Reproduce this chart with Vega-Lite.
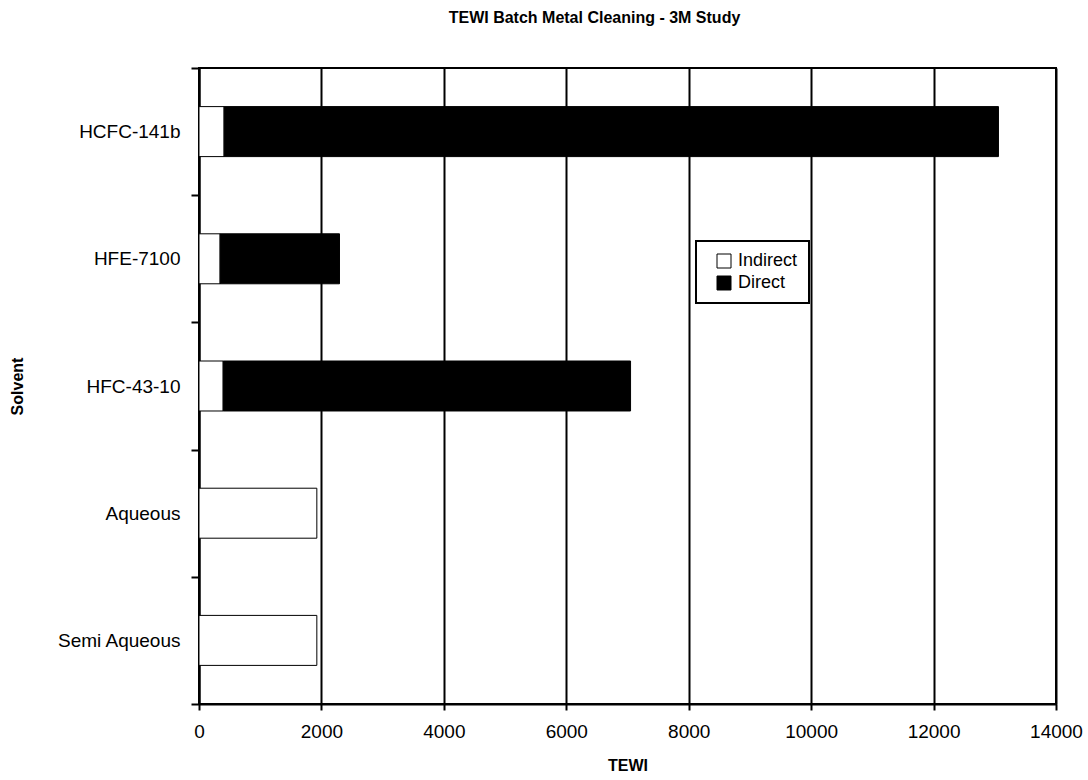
{
  "$schema": "https://vega.github.io/schema/vega-lite/v6.json",
  "autosize": "none",
  "width": 857,
  "height": 636,
  "padding": {"left": 199, "top": 68, "right": 32, "bottom": 76},
  "background": "white",
  "title": {
    "text": "TEWI Batch Metal Cleaning - 3M Study",
    "font": "Liberation Sans",
    "fontSize": 16,
    "fontWeight": "bold",
    "color": "black",
    "anchor": "middle",
    "frame": "group",
    "baseline": "alphabetic",
    "offset": 20,
    "dx": -33
  },
  "data": {
    "values": [
      {"solvent": "HCFC-141b", "type": "Indirect", "tewi": 410},
      {"solvent": "HCFC-141b", "type": "Direct", "tewi": 12650},
      {"solvent": "HFE-7100", "type": "Indirect", "tewi": 345},
      {"solvent": "HFE-7100", "type": "Direct", "tewi": 1950},
      {"solvent": "HFC-43-10", "type": "Indirect", "tewi": 395},
      {"solvent": "HFC-43-10", "type": "Direct", "tewi": 6655},
      {"solvent": "Aqueous", "type": "Indirect", "tewi": 1925},
      {"solvent": "Semi Aqueous", "type": "Indirect", "tewi": 1925}
    ]
  },
  "mark": {"type": "bar", "stroke": "black", "strokeWidth": 1, "height": {"band": 0.393}},
  "encoding": {
    "y": {
      "field": "solvent",
      "type": "nominal",
      "sort": ["HCFC-141b", "HFE-7100", "HFC-43-10", "Aqueous", "Semi Aqueous"],
      "scale": {"paddingInner": 0, "paddingOuter": 0},
      "axis": {
        "title": "Solvent",
        "titleFont": "Liberation Sans",
        "titleFontSize": 16,
        "titleFontWeight": "bold",
        "titleColor": "black",
        "titlePadding": 31,
        "labelFont": "Liberation Sans",
        "labelFontSize": 19,
        "labelColor": "black",
        "labelPadding": 11,
        "tickBand": "extent",
        "tickSize": 8,
        "tickWidth": 2,
        "tickColor": "black",
        "domainColor": "black",
        "domainWidth": 2,
        "grid": false
      }
    },
    "x": {
      "field": "tewi",
      "type": "quantitative",
      "stack": "zero",
      "scale": {"domain": [0, 14000], "nice": false},
      "axis": {
        "title": "TEWI",
        "titleFont": "Liberation Sans",
        "titleFontSize": 16,
        "titleFontWeight": "bold",
        "titleColor": "black",
        "titlePadding": 16,
        "values": [0, 2000, 4000, 6000, 8000, 10000, 12000, 14000],
        "format": "d",
        "labelFont": "Liberation Sans",
        "labelFontSize": 19,
        "labelColor": "black",
        "labelPadding": 12,
        "labelFlush": false,
        "tickSize": 6,
        "tickWidth": 2,
        "tickColor": "black",
        "domainColor": "black",
        "domainWidth": 2,
        "grid": true,
        "gridColor": "black",
        "gridWidth": 2,
        "gridOpacity": 1
      }
    },
    "color": {
      "field": "type",
      "type": "nominal",
      "scale": {"domain": ["Indirect", "Direct"], "range": ["white", "black"]},
      "legend": {
        "title": null,
        "orient": "none",
        "legendX": 497,
        "legendY": 173,
        "direction": "vertical",
        "fillColor": "white",
        "strokeColor": "black",
        "padding": 11,
        "symbolType": "square",
        "symbolSize": 196,
        "symbolStrokeColor": "black",
        "symbolStrokeWidth": 1,
        "symbolOpacity": 1,
        "symbolOffset": 8,
        "labelFont": "Liberation Sans",
        "labelFontSize": 18,
        "labelColor": "black",
        "labelOffset": 5,
        "rowPadding": 4
      }
    },
    "order": {"field": "type", "sort": "descending"}
  },
  "config": {
    "view": {"stroke": "black", "strokeWidth": 2},
    "legend": {"strokeWidth": 2}
  }
}
